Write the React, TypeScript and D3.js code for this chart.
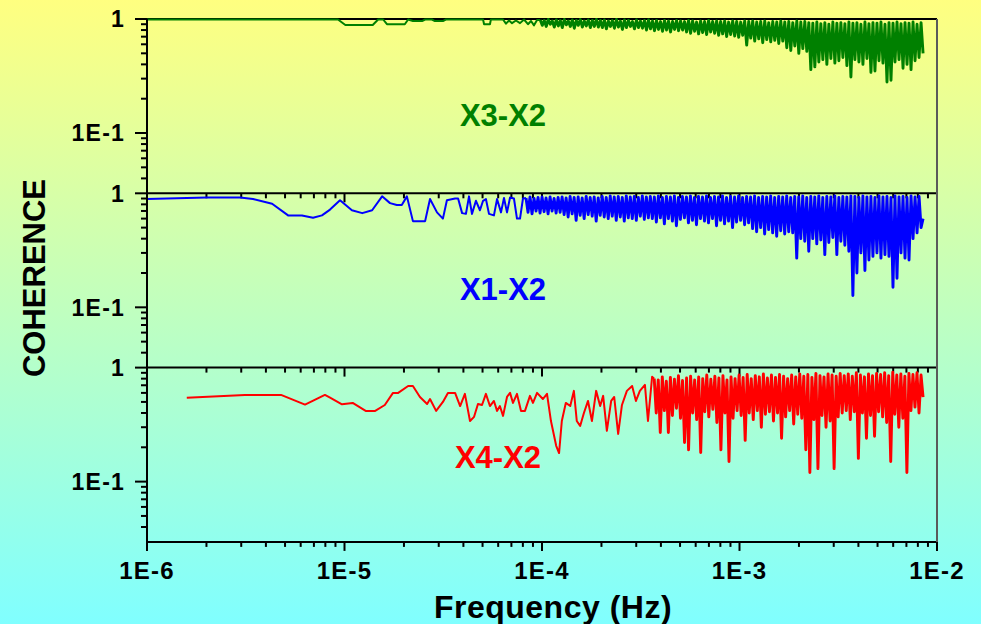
import * as d3 from "d3";

// axis domains
const FREQ_DOMAIN = [1e-6, 1e-2];
const COH_DOMAIN = [0.0296, 1];
const X_TICK_LABELS = ["1E-6", "1E-5", "1E-4", "1E-3", "1E-2"];

// X3-X2: low-frequency part [Hz, coherence]
const x3x2Low: [number, number][] = [
  [1.0e-6, 0.99], [9.27e-6, 0.99], [1.01e-5, 0.886], [1.39e-5, 0.886], [1.48e-5, 0.99],
  [1.57e-5, 0.99], [1.64e-5, 0.9], [2.02e-5, 0.9], [2.1e-5, 0.99], [2.22e-5, 0.96],
  [2.47e-5, 0.96], [2.56e-5, 0.99], [2.77e-5, 0.99], [2.87e-5, 0.96], [3.15e-5, 0.96],
  [3.26e-5, 0.99], [5.03e-5, 0.99], [5.09e-5, 0.9], [5.45e-5, 0.9], [5.51e-5, 0.99],
  [6.35e-5, 0.99], [6.57e-5, 0.91], [6.81e-5, 0.97], [7.05e-5, 0.92], [7.38e-5, 0.97],
  [7.74e-5, 0.92], [8.11e-5, 0.99], [8.49e-5, 0.9], [8.8e-5, 0.96], [9.11e-5, 0.88],
  [9.44e-5, 0.98],
];
// X3-X2: dense part, readings left to right between these frequencies
const x3x2DenseSpan = [9.8e-5, 8.5e-3];
const x3x2Dense = [
  0.98, 0.88, 0.97, 0.86, 0.99, 0.9, 0.96, 0.85, 0.98, 0.87, 0.97, 0.84, 0.99, 0.89, 0.96,
  0.86, 0.98, 0.83, 0.97, 0.88, 0.99, 0.85, 0.96, 0.87, 0.98, 0.84, 0.97, 0.86, 0.99, 0.85,
  0.97, 0.84, 0.98, 0.82, 0.96, 0.86, 0.97, 0.83, 0.99, 0.85, 0.96, 0.81, 0.98, 0.84, 0.97,
  0.86, 0.95, 0.82, 0.98, 0.84, 0.96, 0.83, 0.97, 0.8, 0.98,
  0.82, 0.96, 0.79, 0.97, 0.81, 0.95, 0.78, 0.97, 0.8, 0.96, 0.77, 0.95, 0.81, 0.97, 0.79, 0.96, 0.8,
  0.95, 0.77, 0.97, 0.75, 0.96, 0.78, 0.94, 0.74, 0.96, 0.76, 0.95, 0.73, 0.97, 0.77, 0.95, 0.75, 0.96,
  0.72, 0.95, 0.74, 0.96, 0.7, 0.94, 0.73, 0.96, 0.71, 0.95, 0.69, 0.94, 0.72, 0.96, 0.59, 0.95,
  0.68, 0.96, 0.64, 0.94, 0.67, 0.95, 0.62, 0.96, 0.66, 0.93, 0.63, 0.95, 0.65, 0.94, 0.61, 0.96, 0.64,
  0.94, 0.56, 0.95, 0.53, 0.93, 0.58, 0.96, 0.5, 0.94, 0.55, 0.95, 0.52,
  0.93, 0.36, 0.92, 0.38, 0.94, 0.42, 0.91, 0.44, 0.93, 0.4, 0.9, 0.45, 0.94, 0.41, 0.92,
  0.43, 0.93, 0.46, 0.91, 0.39, 0.94, 0.31, 0.92, 0.44, 0.93, 0.42, 0.9, 0.4, 0.94, 0.45,
  0.91, 0.34, 0.93, 0.35, 0.92, 0.43, 0.94, 0.41, 0.9, 0.28, 0.93, 0.29, 0.92, 0.42, 0.94,
  0.44, 0.91, 0.37, 0.93, 0.4, 0.92, 0.36, 0.94, 0.43, 0.9, 0.46, 0.93, 0.5,
];

// X1-X2
const x1x2Low: [number, number][] = [
  [1.0e-6, 0.89], [2.01e-6, 0.92], [2.96e-6, 0.92], [3.44e-6, 0.89], [4.3e-6, 0.81],
  [5.18e-6, 0.64], [6.09e-6, 0.64], [6.93e-6, 0.61], [7.69e-6, 0.64], [8.45e-6, 0.72],
  [9.49e-6, 0.87], [1.09e-5, 0.71], [1.23e-5, 0.67], [1.38e-5, 0.71], [1.55e-5, 0.94],
  [1.7e-5, 0.82], [1.84e-5, 0.79], [1.95e-5, 0.79], [2.07e-5, 0.94], [2.22e-5, 0.57],
  [2.36e-5, 0.57], [2.56e-5, 0.57], [2.71e-5, 0.89], [2.94e-5, 0.68], [3.15e-5, 0.6],
  [3.3e-5, 0.87], [3.63e-5, 0.9], [3.76e-5, 0.9], [3.94e-5, 0.67], [4.12e-5, 0.66],
  [4.27e-5, 0.94], [4.42e-5, 0.66], [4.63e-5, 0.86], [4.85e-5, 0.71], [5.03e-5, 0.86],
  [5.2e-5, 0.89], [5.39e-5, 0.66], [5.71e-5, 0.64], [5.92e-5, 0.89], [6.2e-5, 0.68],
  [6.42e-5, 0.91], [6.65e-5, 0.68], [6.89e-5, 0.92], [7.21e-5, 0.9], [7.47e-5, 0.6],
  [7.74e-5, 0.6], [8.01e-5, 0.9],
];
const x1x2DenseSpan = [8.3e-5, 8.5e-3];
const x1x2Dense = [
  0.91, 0.68, 0.93, 0.66, 0.9, 0.7, 0.92, 0.67, 0.93, 0.69, 0.91, 0.66, 0.93, 0.7, 0.9, 0.67, 0.92, 0.68,
  0.93, 0.65, 0.91, 0.62, 0.94, 0.66, 0.92, 0.58, 0.93, 0.64, 0.91, 0.6, 0.94, 0.65, 0.92, 0.63, 0.93,
  0.57, 0.91, 0.64,
  0.94, 0.62, 0.92, 0.6, 0.95, 0.63, 0.93, 0.58, 0.94, 0.62, 0.92, 0.57, 0.95, 0.61, 0.93, 0.6, 0.94,
  0.58, 0.92, 0.63, 0.95, 0.59, 0.93, 0.61, 0.94,
  0.6, 0.93, 0.56, 0.95, 0.61, 0.92, 0.54, 0.94, 0.6, 0.93, 0.57, 0.95, 0.52, 0.92, 0.59, 0.94, 0.61,
  0.93, 0.55, 0.95, 0.58, 0.92, 0.53, 0.94, 0.6,
  0.93, 0.57, 0.95, 0.55, 0.92, 0.6, 0.94, 0.52, 0.93, 0.58, 0.95, 0.54, 0.92, 0.57, 0.94, 0.5, 0.93,
  0.56, 0.95, 0.58, 0.92, 0.53, 0.94, 0.55, 0.93,
  0.49, 0.95, 0.46, 0.92, 0.5, 0.94, 0.44, 0.93, 0.48, 0.95, 0.45, 0.92, 0.42, 0.94, 0.47, 0.93, 0.44,
  0.95, 0.46, 0.92,
  0.45, 0.94, 0.27, 0.93, 0.4,
  0.95, 0.38, 0.92, 0.31, 0.94, 0.4, 0.93, 0.36, 0.95, 0.39, 0.92, 0.29, 0.94, 0.37, 0.93, 0.41, 0.95,
  0.29, 0.92, 0.38, 0.94, 0.35, 0.93, 0.31, 0.95,
  0.127, 0.94, 0.2, 0.92, 0.3, 0.95, 0.21, 0.93, 0.26, 0.94,
  0.28, 0.92, 0.3, 0.95, 0.27, 0.93, 0.29, 0.94, 0.28, 0.92,
  0.15, 0.95, 0.18, 0.93, 0.3, 0.94, 0.27, 0.92, 0.26, 0.95,
  0.4, 0.93, 0.45, 0.94, 0.5, 0.6,
];

// X4-X2
const x4x2Low: [number, number][] = [
  [1.59e-6, 0.545], [3.13e-6, 0.576], [4.77e-6, 0.576], [6.31e-6, 0.474], [7.96e-6, 0.576],
  [8.45e-6, 0.545], [9.71e-6, 0.477], [1.1e-5, 0.49], [1.28e-5, 0.417], [1.43e-5, 0.417],
  [1.6e-5, 0.47], [1.76e-5, 0.6], [1.87e-5, 0.6], [2.1e-5, 0.69], [2.22e-5, 0.69],
  [2.41e-5, 0.553], [2.62e-5, 0.48], [2.71e-5, 0.53], [2.91e-5, 0.417], [3.15e-5, 0.5],
  [3.34e-5, 0.6], [3.63e-5, 0.6], [3.85e-5, 0.46], [4.07e-5, 0.588], [4.32e-5, 0.34],
  [4.53e-5, 0.37], [4.74e-5, 0.48], [4.97e-5, 0.47], [5.2e-5, 0.588], [5.45e-5, 0.46],
  [5.71e-5, 0.51], [5.92e-5, 0.417], [6.12e-5, 0.46], [6.35e-5, 0.377], [6.65e-5, 0.553],
  [6.89e-5, 0.6], [7.13e-5, 0.49], [7.47e-5, 0.588], [7.83e-5, 0.417], [8.2e-5, 0.417],
  [8.69e-5, 0.565], [9.0e-5, 0.49], [9.44e-5, 0.6], [1.01e-4, 0.53], [1.06e-4, 0.588],
  [1.11e-4, 0.34], [1.18e-4, 0.206], [1.22e-4, 0.178], [1.26e-4, 0.34], [1.32e-4, 0.49],
  [1.39e-4, 0.46], [1.45e-4, 0.625], [1.5e-4, 0.34], [1.56e-4, 0.308], [1.63e-4, 0.4],
  [1.71e-4, 0.51], [1.79e-4, 0.34], [1.88e-4, 0.625], [1.97e-4, 0.46], [2.04e-4, 0.565],
  [2.13e-4, 0.279], [2.24e-4, 0.51], [2.32e-4, 0.553], [2.43e-4, 0.262], [2.54e-4, 0.47],
  [2.69e-4, 0.625], [2.86e-4, 0.69], [2.99e-4, 0.51], [3.13e-4, 0.625], [3.32e-4, 0.705],
  [3.44e-4, 0.34], [3.61e-4, 0.83],
];
const x4x2DenseSpan = [3.7e-4, 8.5e-3];
const x4x2Dense = [
  0.8, 0.4, 0.78, 0.27, 0.83, 0.42, 0.76, 0.27, 0.82, 0.38, 0.79, 0.44, 0.85, 0.36, 0.77, 0.22,
  0.81, 0.19, 0.84, 0.4, 0.78, 0.35,
  0.83, 0.18, 0.8, 0.41, 0.86, 0.37, 0.79, 0.43, 0.84, 0.33, 0.81, 0.19, 0.85, 0.4, 0.78, 0.15,
  0.83, 0.36, 0.8, 0.42,
  0.86, 0.38, 0.82, 0.23, 0.87, 0.4, 0.8, 0.35, 0.85, 0.42, 0.83, 0.3, 0.88, 0.39, 0.81, 0.41,
  0.86, 0.34, 0.82, 0.4, 0.87, 0.24, 0.84, 0.37, 0.8, 0.42, 0.86, 0.32, 0.83, 0.39,
  0.88, 0.36, 0.84, 0.19, 0.87, 0.12, 0.82, 0.35, 0.89, 0.13, 0.85, 0.38, 0.83, 0.3, 0.88, 0.34,
  0.86, 0.13, 0.84, 0.37,
  0.89, 0.4, 0.85, 0.42, 0.88, 0.35, 0.84, 0.41, 0.9, 0.16, 0.86, 0.4, 0.83, 0.24, 0.88, 0.38,
  0.85, 0.25, 0.89, 0.41,
  0.87, 0.37, 0.9, 0.33, 0.85, 0.15, 0.91, 0.39, 0.86, 0.3, 0.88, 0.36, 0.84, 0.12, 0.89,
  0.42, 0.87, 0.45, 0.9, 0.4, 0.86, 0.55,
];

const W = 981;
const H = 624;
const LEFT = 147;
const RIGHT = 937;
const TOP = 19;
const PANEL_H = 174.3;
const FONT = "'Liberation Sans', Arial, Helvetica, sans-serif";

// place the dense readings along the frequency axis
function denseTail(span: number[], dense: number[]) {
  const pos = d3.scaleLinear().domain([0, dense.length - 1]).range([Math.log10(span[0]), Math.log10(span[1])]);
  return dense.map((v, i) => [Math.pow(10, pos(i)), v] as [number, number]);
}

const panels = [
  { name: "X3-X2", color: "#008000", low: x3x2Low, dense: denseTail(x3x2DenseSpan, x3x2Dense), lx: 503, ly: 107 },
  { name: "X1-X2", color: "#0000ff", low: x1x2Low, dense: denseTail(x1x2DenseSpan, x1x2Dense), lx: 503, ly: 107 },
  { name: "X4-X2", color: "#ff0000", low: x4x2Low, dense: denseTail(x4x2DenseSpan, x4x2Dense), lx: 498, ly: 100 },
];

export default function App() {
  const x = d3.scaleLog().domain(FREQ_DOMAIN).range([LEFT, RIGHT]);
  const y = d3.scaleLog().domain(COH_DOMAIN).range([PANEL_H, 0]);
  const line = d3
    .line<[number, number]>()
    .x((d) => x(d[0]))
    .y((d) => y(d[1]));

  const xMajor = [1e-6, 1e-5, 1e-4, 1e-3, 1e-2];
  const xMinor: number[] = [];
  xMajor.slice(0, 4).forEach((d) => d3.range(2, 10).forEach((m) => xMinor.push(d * m)));
  const yMajor = [1, 0.1];
  const yMinor = [0.9, 0.8, 0.7, 0.6, 0.5, 0.4, 0.3, 0.2, 0.09, 0.08, 0.07, 0.06, 0.05, 0.04];

  const bottom = TOP + PANEL_H * 3;

  return (
    <svg
      width={W}
      height={H}
      style={{ position: "absolute", left: 0, top: 0, display: "block" }}
      fontFamily={FONT}
      fontWeight="bold"
    >
      <defs>
        <linearGradient id="bg" x1="0" y1="0" x2="0" y2="1">
          <stop offset="0" stopColor="#ffff80" />
          <stop offset="1" stopColor="#80ffff" />
        </linearGradient>
        {panels.map((p, i) => (
          <clipPath id={`clip${i}`} key={p.name}>
            <rect x={LEFT} y={-2} width={RIGHT - LEFT} height={PANEL_H + 2} />
          </clipPath>
        ))}
      </defs>
      <rect width={W} height={H} fill="url(#bg)" />

      <line x1={LEFT} x2={RIGHT} y1={TOP} y2={TOP} stroke="#000" strokeWidth={2} />

      {panels.map((p, i) => (
        <g key={p.name} transform={`translate(0,${TOP + i * PANEL_H})`}>
          <g clipPath={`url(#clip${i})`} fill="none" stroke={p.color} strokeLinejoin="round">
            <path d={line([...p.low, p.dense[0]]) ?? ""} strokeWidth={2} />
            <path d={line(p.dense) ?? ""} strokeWidth={2.9} />
          </g>
          <text x={p.lx} y={p.ly} fontSize={31} fill={p.color} textAnchor="middle">
            {p.name}
          </text>
          {/* bottom axis */}
          <line x1={LEFT} x2={RIGHT} y1={PANEL_H} y2={PANEL_H} stroke="#000" strokeWidth={2} />
          {xMinor.map((t) => (
            <line key={t} x1={x(t)} x2={x(t)} y1={PANEL_H} y2={PANEL_H + 5} stroke="#000" strokeWidth={2} />
          ))}
          {xMajor.map((t) => (
            <line key={t} x1={x(t)} x2={x(t)} y1={PANEL_H} y2={PANEL_H + 9} stroke="#000" strokeWidth={2} />
          ))}
          {/* left axis */}
          <line x1={LEFT} x2={LEFT} y1={0} y2={PANEL_H} stroke="#000" strokeWidth={2} />
          {yMinor.map((t) => (
            <line key={t} x1={LEFT - 6} x2={LEFT} y1={y(t)} y2={y(t)} stroke="#000" strokeWidth={2} />
          ))}
          {yMajor.map((t) => (
            <g key={t}>
              <line x1={LEFT - 12} x2={LEFT} y1={y(t)} y2={y(t)} stroke="#000" strokeWidth={2} />
              <text x={125} y={y(t)} dy="0.36em" fontSize={23} textAnchor="end" letterSpacing={1.2}>
                {t === 1 ? "1" : "1E-1"}
              </text>
            </g>
          ))}
        </g>
      ))}

      <line x1={RIGHT} x2={RIGHT} y1={TOP} y2={bottom} stroke="#5a5a5a" strokeWidth={2} />

      {xMajor.map((t, i) => (
        <text key={t} x={x(t)} y={579} fontSize={24} textAnchor="middle" letterSpacing={1.2}>
          {X_TICK_LABELS[i]}
        </text>
      ))}

      <text x={553} y={618} fontSize={32} textAnchor="middle" letterSpacing={0.5}>
        Frequency (Hz)
      </text>
      <text transform={`translate(45,278) rotate(-90)`} fontSize={31} textAnchor="middle">
        COHERENCE
      </text>
    </svg>
  );
}
